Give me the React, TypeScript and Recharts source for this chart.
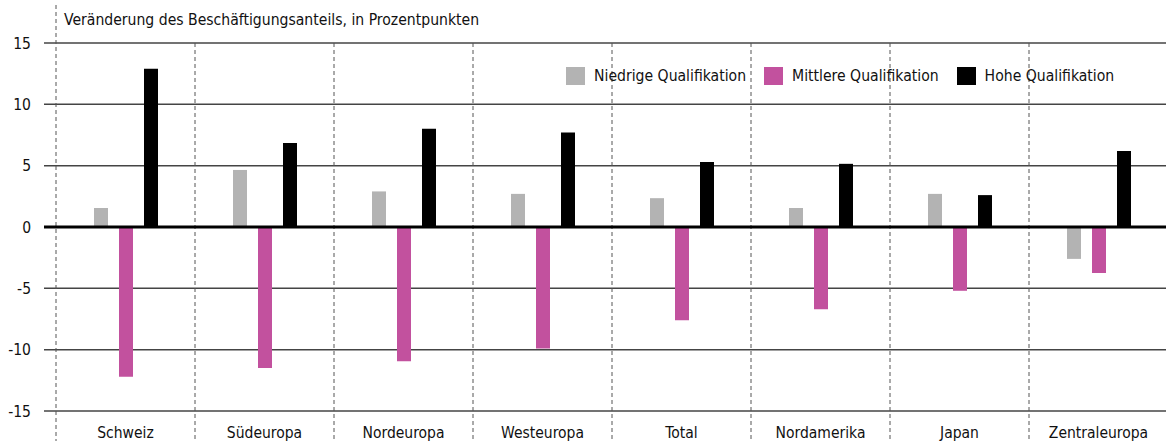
import {
  Bar,
  BarChart,
  CartesianGrid,
  Legend,
  ReferenceLine,
  XAxis,
  YAxis,
} from "recharts";

const categories = [
  "Schweiz",
  "Südeuropa",
  "Nordeuropa",
  "Westeuropa",
  "Total",
  "Nordamerika",
  "Japan",
  "Zentraleuropa",
];
const niedrige = [1.55, 4.65, 2.9, 2.7, 2.35, 1.55, 2.7, -2.6];
const mittlere = [-12.2, -11.5, -10.95, -9.9, -7.6, -6.7, -5.2, -3.75];
const hohe = [12.9, 6.85, 8.0, 7.7, 5.3, 5.15, 2.6, 6.2];
const yTicks = [-15, -10, -5, 0, 5, 10, 15];

const series = [
  { key: "niedrige", name: "Niedrige Qualifikation", color: "#b3b3b3" },
  { key: "mittlere", name: "Mittlere Qualifikation", color: "#c2519e" },
  { key: "hohe", name: "Hohe Qualifikation", color: "#000000" },
];

const data = categories.map((name, i) => ({
  name,
  niedrige: niedrige[i],
  mittlere: mittlere[i],
  hohe: hohe[i],
}));

const FONT = "'DejaVu Sans Condensed', 'Liberation Sans Narrow', 'DejaVu Sans', sans-serif";

const LegendContent = () => (
  <div style={{ display: "flex", alignItems: "center", fontFamily: FONT, fontSize: 15.6, color: "#111", whiteSpace: "nowrap" }}>
    {series.map((s) => (
      <div key={s.key} style={{ display: "flex", alignItems: "center", marginRight: 18 }}>
        <span style={{ display: "inline-block", width: 19, height: 18, background: s.color, marginRight: 9 }} />
        <span>{s.name}</span>
      </div>
    ))}
  </div>
);

// dashed separators between categories, stretched past the plot area
const Separator = (first: boolean) => (p: any) => {
  const top = Math.min(p.y1, p.y2);
  const bottom = Math.max(p.y1, p.y2);
  return (
    <line
      x1={p.x1}
      x2={p.x2}
      y1={first ? 5 : top}
      y2={bottom + 30}
      stroke="#555"
      strokeWidth={1}
      strokeDasharray="4 3"
    />
  );
};

export default function App() {
  return (
    <div style={{ position: "absolute", left: 0, top: 0, width: 1166, height: 441, background: "#fff" }}>
      <div
        style={{
          position: "absolute",
          left: 64,
          top: 11,
          fontFamily: FONT,
          fontSize: 15.6,
          color: "#111",
          whiteSpace: "nowrap",
        }}
      >
        Veränderung des Beschäftigungsanteils, in Prozentpunkten
      </div>
      <BarChart
        width={1166}
        height={441}
        data={data}
        margin={{ top: 43, right: 0, left: 0, bottom: 0 }}
        barSize={14}
        barGap={11}
      >
        <CartesianGrid vertical={false} stroke="#444" strokeWidth={1.5} />
        <XAxis
          dataKey="name"
          height={30}
          padding={{ left: 12, right: -2 }}
          axisLine={false}
          tickLine={false}
          tickSize={0}
          tickMargin={16}
          tick={{ fontFamily: FONT, fontSize: 15.5, fill: "#111" }}
          interval={0}
        />
        <YAxis
          width={44}
          domain={[-15, 15]}
          ticks={yTicks}
          axisLine={false}
          tickLine={false}
          tickSize={0}
          tickMargin={13}
          tick={{ fontFamily: FONT, fontSize: 15.5, fill: "#111" }}
        />
        <Legend
          verticalAlign="middle"
          align="center"
          wrapperStyle={{ top: 67, left: 566, width: "auto" }}
          content={<LegendContent />}
        />
        {series.map((s) => (
          <Bar key={s.key} dataKey={s.key} name={s.name} fill={s.color} isAnimationActive={false} />
        ))}
        {categories.map((c, i) => (
          <ReferenceLine
            key={c}
            x={c}
            position="start"
            ifOverflow="visible"
            shape={Separator(i === 0)}
          />
        ))}
        <ReferenceLine y={0} stroke="#000" strokeWidth={3} />
      </BarChart>
    </div>
  );
}
